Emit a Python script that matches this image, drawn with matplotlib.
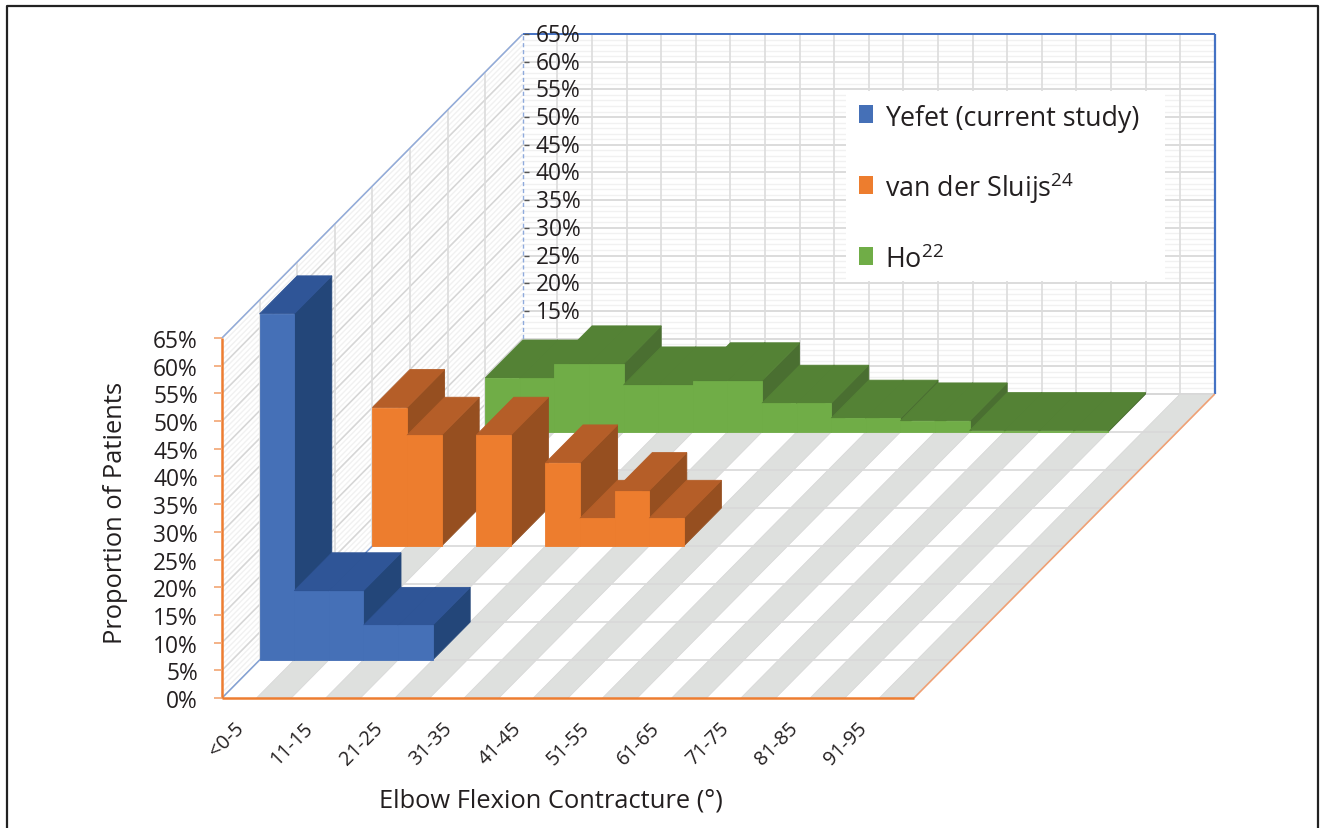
import matplotlib
matplotlib.use('Agg')
import matplotlib.pyplot as plt
from matplotlib.patches import Polygon, Rectangle

plt.rcParams['font.family'] = ['Open Sans', 'DejaVu Sans']
plt.rcParams['mathtext.fontset'] = 'custom'
plt.rcParams['mathtext.rm'] = 'Open Sans'
plt.rcParams['mathtext.default'] = 'regular'

categories = ['<0-5', '6-10', '11-15', '16-20', '21-25', '26-30', '31-35', '36-40', '41-45', '46-50',
              '51-55', '56-60', '61-65', '66-70', '71-75', '76-80', '81-85', '86-90', '91-95', '96-100']
yefet = [62.5, 12.5, 12.5, 6.25, 6.25, 0, 0, 0, 0, 0, 0, 0, 0, 0, 0, 0, 0, 0, 0, 0]
sluijs = [25, 20, 0, 20, 0, 15, 5, 10, 5, 0, 0, 0, 0, 0, 0, 0, 0, 0, 0, 0]
ho = [9.75, 9.75, 12.3, 12.3, 8.5, 8.5, 9.25, 9.25, 5.2, 5.2, 2.5, 2.5, 2, 2, 0.25, 0.25, 0.25, 0.25, 0, 0]
back_tick_labels = [15, 20, 25, 30, 35, 40, 45, 50, 55, 60, 65]
front_tick_labels = [0, 5, 10, 15, 20, 25, 30, 35, 40, 45, 50, 55, 60, 65]

# oblique projection of (category, depth band, percent) onto the page
X0, Y0 = 222.0, 699.0
CAT_W = 34.6
BAND_DX = 37.6
BAND_DY = 38.0
PCT_H = 360.0 / 65
N_CATS = len(categories)
N_BANDS = 8
TOP = 65
TEXT = '#231F20'


def project(cat, band, pct=0):
  return (X0 + cat * CAT_W + band * BAND_DX, Y0 - band * BAND_DY - pct * PCT_H)


def face(ax, pts, color, edge=None, lw=0.6):
  ax.add_patch(Polygon(pts, closed=True, facecolor=color, edgecolor=edge or color, linewidth=lw))


def line(ax, a, b, color, lw=1.0, **kw):
  ax.plot([a[0], b[0]], [a[1], b[1]], color=color, linewidth=lw, solid_capstyle='butt', zorder=1, **kw)


def draw_series(ax, values, band, front, top, side):
  # left to right so each column covers the side face of the one before it
  for i, val in enumerate(values):
    if val <= 0:
      continue
    face(ax, [project(i + 1, band, 0), project(i + 1, band + 1, 0),
              project(i + 1, band + 1, val), project(i + 1, band, val)], side)
    face(ax, [project(i, band, val), project(i + 1, band, val),
              project(i + 1, band + 1, val), project(i, band + 1, val)], top)
    face(ax, [project(i, band, 0), project(i + 1, band, 0),
              project(i + 1, band, val), project(i, band, val)], front)


fig = plt.figure(figsize=(13.21, 8.29), dpi=100)
ax = fig.add_axes([0, 0, 1, 1])
ax.set_xlim(0, 1321)
ax.set_ylim(829, 0)
ax.axis('off')

# outer frame, open along the bottom
ax.plot([6.5, 6.5, 1318, 1318], [829, 6.5, 6.5, 829], color='#222222', linewidth=1.6)

# back and side walls
for pct in range(TOP + 1):
  color = '#D6D6D6' if pct % 5 == 0 else '#F1F1F1'
  lw = 1.2 if pct % 5 == 0 else 1.0
  line(ax, project(0, N_BANDS, pct), project(N_CATS, N_BANDS, pct), color, lw)
  line(ax, project(0, 0, pct), project(0, N_BANDS, pct), color, lw)
for i in range(1, N_CATS):
  line(ax, project(i, N_BANDS, 0), project(i, N_BANDS, TOP), '#DCDCDC', 1.2)
for b in range(1, N_BANDS):
  line(ax, project(0, b, 0), project(0, b, TOP), '#DCDCDC', 1.2)

# striped floor
for i in range(1, N_CATS, 2):
  face(ax, [project(i, 0), project(i + 1, 0), project(i + 1, N_BANDS), project(i, N_BANDS)], '#DEE0DE', lw=0.4)
for b in range(1, N_BANDS + 1):
  line(ax, project(0, b), project(N_CATS, b), '#D8D8D8', 1.2)
for i in range(1, N_CATS):
  line(ax, project(i, 0), project(i, N_BANDS), '#DADADA', 0.6)

# chart edges
BLUE_EDGE = '#8FAADC'
ORANGE_EDGE = '#ED7D31'
line(ax, project(0, 0), project(0, N_BANDS), '#7F9FD6', 1.0)
line(ax, project(0, 0, TOP), project(0, N_BANDS, TOP), BLUE_EDGE, 1.0)
line(ax, project(0, N_BANDS), project(0, N_BANDS, TOP), BLUE_EDGE, 1.0, linestyle=(0, (3, 2)))
line(ax, project(0, N_BANDS, TOP), project(N_CATS, N_BANDS, TOP), '#4472C4', 1.4)
line(ax, project(N_CATS, N_BANDS), project(N_CATS, N_BANDS, TOP), '#4472C4', 1.6)
line(ax, project(N_CATS, 0), project(N_CATS, N_BANDS), '#EFA074', 1.2)
line(ax, project(0, 0), project(N_CATS, 0), ORANGE_EDGE, 1.8)
line(ax, project(0, 0), project(0, 0, TOP), ORANGE_EDGE, 1.8)

# value axes
for pct in front_tick_labels:
  x, y = project(0, 0, pct)
  line(ax, (x - 8, y), (x, y), '#F2A673', 1.2)
  ax.text(198, y + 3, f'{pct}%', ha='right', va='center', fontsize=16.4, color=TEXT)
for pct in back_tick_labels:
  x, y = project(0, N_BANDS, pct)
  line(ax, (x + 1, y), (x + 6, y), '#555555', 1.0)
  ax.text(536, y + 1, f'{pct}%', ha='left', va='center', fontsize=16.4, color=TEXT)

# back to front
draw_series(ax, ho, 7, '#70AD47', '#548235', '#4A6F31')
draw_series(ax, sluijs, 4, '#ED7D2E', '#B55E28', '#964F20')
draw_series(ax, yefet, 1, '#4570B7', '#2F5597', '#234679')

# every other category gets a label
for i in range(0, N_CATS, 2):
  x, _ = project(i + 0.5, 0)
  ax.text(x + 2, 726, categories[i], rotation=45, rotation_mode='anchor', ha='right', va='center',
          fontsize=14.3, color=TEXT)

ax.text(116, 513, 'Proportion of Patients', rotation=90, ha='center', va='center', fontsize=18.4, color=TEXT)
ax.text(551, 801, 'Elbow Flexion Contracture (°)', ha='center', va='center', fontsize=18.4, color=TEXT)

# legend
ax.add_patch(Rectangle((846, 92), 319, 190, facecolor='white', edgecolor='none'))
legend_labels = ['Yefet (current study)', 'van der Sluijs$^{24}$', 'Ho$^{22}$']
legend_colors = ['#4570B7', '#ED7D2E', '#70AD47']
legend_rows = [115, 186, 257]
for label, color, y in zip(legend_labels, legend_colors, legend_rows):
  ax.add_patch(Rectangle((859, y - 9), 14, 18, facecolor=color, edgecolor='none'))
  ax.text(885, y + 11, label, ha='left', va='baseline', fontsize=19.4, color=TEXT)

fig.savefig('out.png', dpi=100)
